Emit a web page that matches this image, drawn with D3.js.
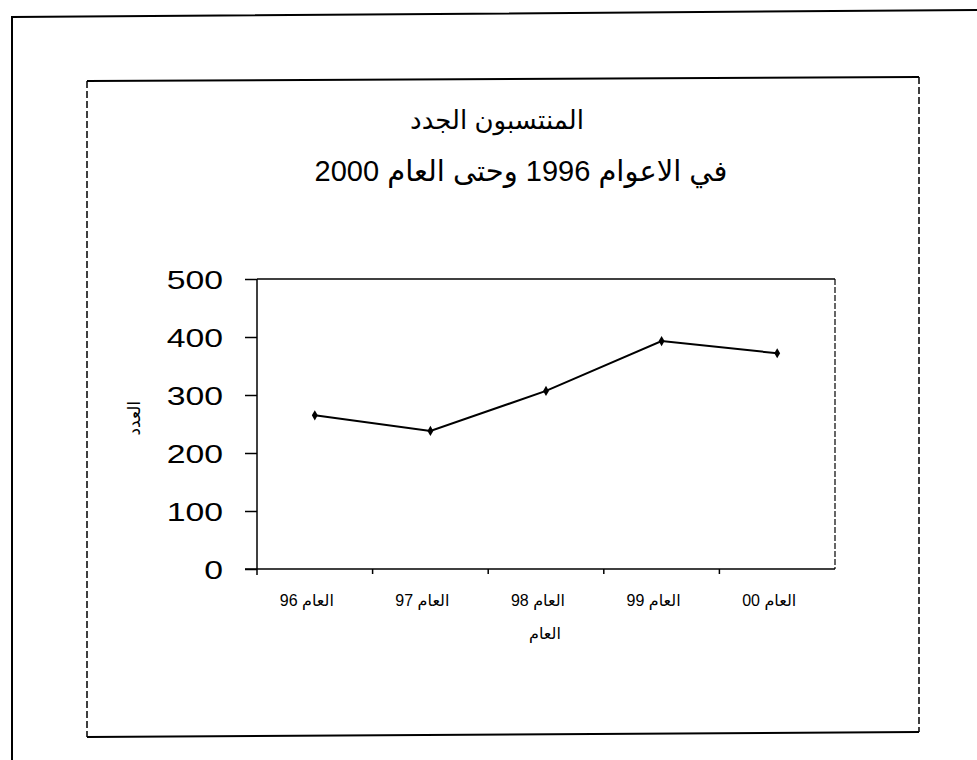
<!DOCTYPE html>
<html>
<head>
<meta charset="utf-8">
<script src="https://cdn.jsdelivr.net/npm/d3@7"></script>
<style>
  body { margin: 0; background: #fff; }
  svg text { font-family: "Liberation Sans", Arial, "DejaVu Sans", sans-serif; fill: #000; }
</style>
</head>
<body>
<svg id="chart"></svg>
<script>
// data
const years = ["العام 96", "العام 97", "العام 98", "العام 99", "العام 00"];
const members = [265, 238, 307, 393, 372];
const yTicks = [0, 100, 200, 300, 400, 500];
const titleLines = ["المنتسبون الجدد", "في الاعوام 1996 وحتى العام 2000"];
const xTitle = "العام";
const yTitle = "العدد";

const W = 977, H = 760;
const margin = {top: 279, right: 142, bottom: 191, left: 257};
const width = W - margin.left - margin.right;
const height = H - margin.top - margin.bottom;

const svg = d3.select("#chart").attr("width", W).attr("height", H);

// page edge and chart frame from the scan
svg.append("path")
    .attr("d", "M12,760 L12,17 L977,10")
    .attr("fill", "none").attr("stroke", "#000").attr("stroke-width", 2);

const frame = {x0: 87, y0: 81, x1: 919, y1: 735};
svg.append("line").attr("x1", frame.x0).attr("y1", frame.y0).attr("x2", frame.x1).attr("y2", frame.y0 - 4)
    .attr("stroke", "#000").attr("stroke-width", 2);
svg.append("line").attr("x1", frame.x0).attr("y1", frame.y1 + 2).attr("x2", frame.x1).attr("y2", frame.y1 - 3)
    .attr("stroke", "#000").attr("stroke-width", 2);
svg.append("line").attr("x1", frame.x0).attr("y1", frame.y0).attr("x2", frame.x0).attr("y2", frame.y1 + 2)
    .attr("stroke", "#000").attr("stroke-width", 1.5).attr("stroke-dasharray", "7,3");
svg.append("line").attr("x1", frame.x1).attr("y1", frame.y0 - 4).attr("x2", frame.x1).attr("y2", frame.y1 - 3)
    .attr("stroke", "#000").attr("stroke-width", 1.5).attr("stroke-dasharray", "7,3");

// title
svg.append("text")
    .attr("x", 497).attr("y", 129)
    .attr("text-anchor", "middle")
    .style("font-size", "26px")
    .text(titleLines[0]);
svg.append("text")
    .attr("x", 521).attr("y", 181)
    .attr("text-anchor", "middle")
    .style("font-size", "29px")
    .text(titleLines[1]);

const chart = svg.append("g")
    .attr("transform", `translate(${margin.left},${margin.top})`);

const xScale = d3.scaleBand().domain(years).range([0, width]);
const yScale = d3.scaleLinear().domain([0, 500]).range([height, 0]);

// plot area border (top and right)
chart.append("line").attr("x1", 0).attr("x2", width).attr("y1", 0).attr("y2", 0)
    .attr("stroke", "#000").attr("stroke-width", 1.5);
chart.append("line").attr("x1", width).attr("x2", width).attr("y1", 0).attr("y2", height)
    .attr("stroke", "#000").attr("stroke-width", 1.2).attr("stroke-dasharray", "6,2");

// y axis
const yAxisG = chart.append("g")
    .call(d3.axisLeft(yScale).tickValues(yTicks).tickSize(12).tickPadding(0).tickFormat(d3.format("d")));
yAxisG.select(".domain").attr("stroke-width", 1.5).attr("d", `M0,${height + 6}V0`);
yAxisG.selectAll(".tick line").attr("stroke-width", 1.5);
yAxisG.selectAll(".tick text")
    .attr("x", 0)
    .attr("dy", "0.36em")
    .attr("transform", "translate(-34,0) scale(1.35,1)")
    .style("font-size", "25px");

// x axis
const xAxisG = chart.append("g")
    .attr("transform", `translate(0,${height})`)
    .call(d3.axisBottom(xScale).tickSize(0).tickPadding(0));
xAxisG.select(".domain").attr("stroke-width", 1.5).attr("d", `M-12,0H${width}`);
xAxisG.selectAll(".tick text")
    .attr("y", 37)
    .attr("dy", 0)
    .attr("x", -8)
    .style("font-size", "16px");
// tick marks between categories
xAxisG.selectAll(".sep")
    .data(years.slice(1))
    .join("line")
    .attr("class", "sep")
    .attr("x1", d => xScale(d)).attr("x2", d => xScale(d))
    .attr("y1", 0).attr("y2", 5)
    .attr("stroke", "#000").attr("stroke-width", 1.5);

// axis titles
chart.append("text")
    .attr("x", 288).attr("y", height + 70)
    .attr("text-anchor", "middle")
    .style("font-size", "16px")
    .text(xTitle);
chart.append("text")
    .attr("transform", `translate(-117,${yScale(260)}) rotate(-90)`)
    .attr("text-anchor", "middle")
    .style("font-size", "17px")
    .text(yTitle);

// the series
const line = d3.line()
    .x((d, i) => xScale(years[i]) + xScale.bandwidth() / 2)
    .y(d => yScale(d));

chart.append("path")
    .datum(members)
    .attr("fill", "none")
    .attr("stroke", "#000")
    .attr("stroke-width", 2)
    .attr("d", line);

chart.selectAll(".pt")
    .data(members)
    .join("path")
    .attr("class", "pt")
    .attr("d", d3.symbol(d3.symbolDiamond, 30))
    .attr("transform", (d, i) => `translate(${xScale(years[i]) + xScale.bandwidth() / 2},${yScale(d)})`)
    .attr("fill", "#000");
</script>
</body>
</html>
